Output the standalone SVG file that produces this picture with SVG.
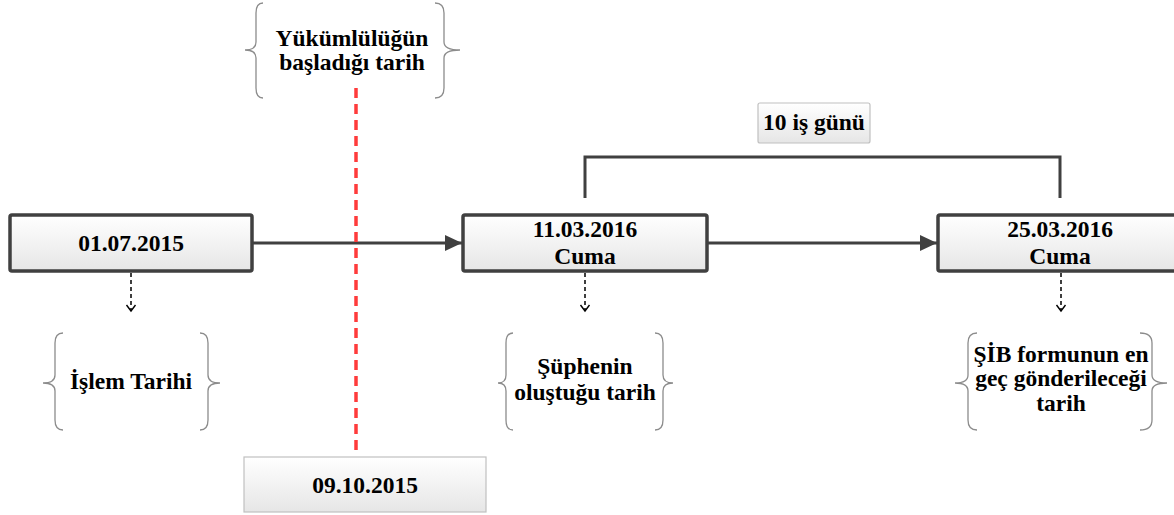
<svg xmlns="http://www.w3.org/2000/svg" width="1174" height="515" viewBox="0 0 1174 515">
<defs>
<linearGradient id="g" x1="0" y1="0" x2="0" y2="1">
<stop offset="0" stop-color="#ffffff"/>
<stop offset="1" stop-color="#e6e6e6"/>
</linearGradient>
<marker id="tri" markerWidth="18" markerHeight="16" refX="17" refY="8" orient="auto" markerUnits="userSpaceOnUse">
<path d="M0,0 L17,8 L0,16 Z" fill="#404040"/>
</marker>
<marker id="vee" markerWidth="12" markerHeight="12" refX="9" refY="6" orient="auto" markerUnits="userSpaceOnUse">
<path d="M3,1.5 L9,6 L3,10.5" fill="none" stroke="#000" stroke-width="1.4"/>
</marker>
</defs>
<style>
.main{fill:url(#g);stroke:#404040;stroke-width:3.5}
.soft{fill:url(#g);stroke:#c0c0c0;stroke-width:1.2}
.brace{fill:none;stroke:#8c8c8c;stroke-width:1.3}
.t{font-family:"Liberation Serif","Times New Roman",serif;font-weight:bold;font-size:23.5px;fill:#000;text-anchor:middle}
.conn{fill:none;stroke:#404040;stroke-width:3}
.dash{fill:none;stroke:#000;stroke-width:1.5;stroke-dasharray:4 3}
.red{fill:none;stroke:#ff3b3b;stroke-width:3.5;stroke-dasharray:10 6}
</style>

<g id="connectors">
<line class="conn" x1="253" y1="243" x2="462" y2="243" marker-end="url(#tri)"/>
<line class="conn" x1="708" y1="243" x2="937" y2="243" marker-end="url(#tri)"/>
<path class="conn" d="M585,198 L585,157 L1060,157 L1060,198"/>
<line class="dash" x1="131" y1="273" x2="131" y2="311" marker-end="url(#vee)"/>
<line class="dash" x1="585" y1="273" x2="585" y2="311" marker-end="url(#vee)"/>
<line class="dash" x1="1061" y1="273" x2="1061" y2="311" marker-end="url(#vee)"/>
<line class="red" x1="356" y1="88" x2="356" y2="456"/>
</g>

<g id="node-baslangic">
<path class="brace" d="M263,3 Q256,3 256,13 L256,42 Q256,50 245,50 Q256,50 256,58 L256,88 Q256,98 263,98"/>
<path class="brace" d="M435,3 Q444,3 444,13 L444,42 Q444,50 460,50 Q444,50 444,58 L444,88 Q444,98 435,98"/>
<text class="t" x="352" y="46">Yükümlülüğün</text>
<text class="t" x="352" y="70">başladığı tarih</text>
</g>

<g id="node-islem">
<rect class="main" x="10" y="215" width="242" height="56" rx="2"/>
<text class="t" x="131" y="251">01.07.2015</text>
</g>

<g id="node-supheli">
<rect class="main" x="463" y="215" width="244" height="56" rx="2"/>
<text class="t" x="585" y="237">11.03.2016</text>
<text class="t" x="585" y="264">Cuma</text>
</g>

<g id="node-gonderim">
<rect class="main" x="938" y="215" width="244" height="56" rx="2"/>
<text class="t" x="1060" y="237">25.03.2016</text>
<text class="t" x="1060" y="264">Cuma</text>
</g>

<g id="node-isgunu">
<rect class="soft" x="758" y="103" width="112" height="40" rx="2"/>
<text class="t" x="814" y="130">10 iş günü</text>
</g>

<g id="node-islem-tarihi">
<path class="brace" d="M63,333 Q55,333 55,343 L55,375 Q55,383 43,383 Q55,383 55,391 L55,420 Q55,430 63,430"/>
<path class="brace" d="M200,333 Q208,333 208,343 L208,375 Q208,383 220,383 Q208,383 208,391 L208,420 Q208,430 200,430"/>
<text class="t" x="131" y="389">İşlem Tarihi</text>
</g>

<g id="node-suphe">
<path class="brace" d="M513,333 Q506,333 506,343 L506,375 Q506,383 498,383 Q506,383 506,391 L506,420 Q506,430 513,430"/>
<path class="brace" d="M655,333 Q663,333 663,343 L663,375 Q663,383 673,383 Q663,383 663,391 L663,420 Q663,430 655,430"/>
<text class="t" x="585" y="374">Şüphenin</text>
<text class="t" x="585" y="400">oluştuğu tarih</text>
</g>

<g id="node-sib">
<path class="brace" d="M977,333 Q968,333 968,343 L968,375 Q968,383 955,383 Q968,383 968,391 L968,420 Q968,430 977,430"/>
<path class="brace" d="M1140,333 Q1152,333 1152,343 L1152,375 Q1152,383 1167,383 Q1152,383 1152,391 L1152,420 Q1152,430 1140,430"/>
<text class="t" x="1061" y="362">ŞİB formunun en</text>
<text class="t" x="1061" y="386">geç gönderileceği</text>
<text class="t" x="1061" y="411">tarih</text>
</g>

<g id="node-tarih">
<rect class="soft" x="244" y="457" width="242" height="55"/>
<text class="t" x="365" y="493">09.10.2015</text>
</g>
</svg>
